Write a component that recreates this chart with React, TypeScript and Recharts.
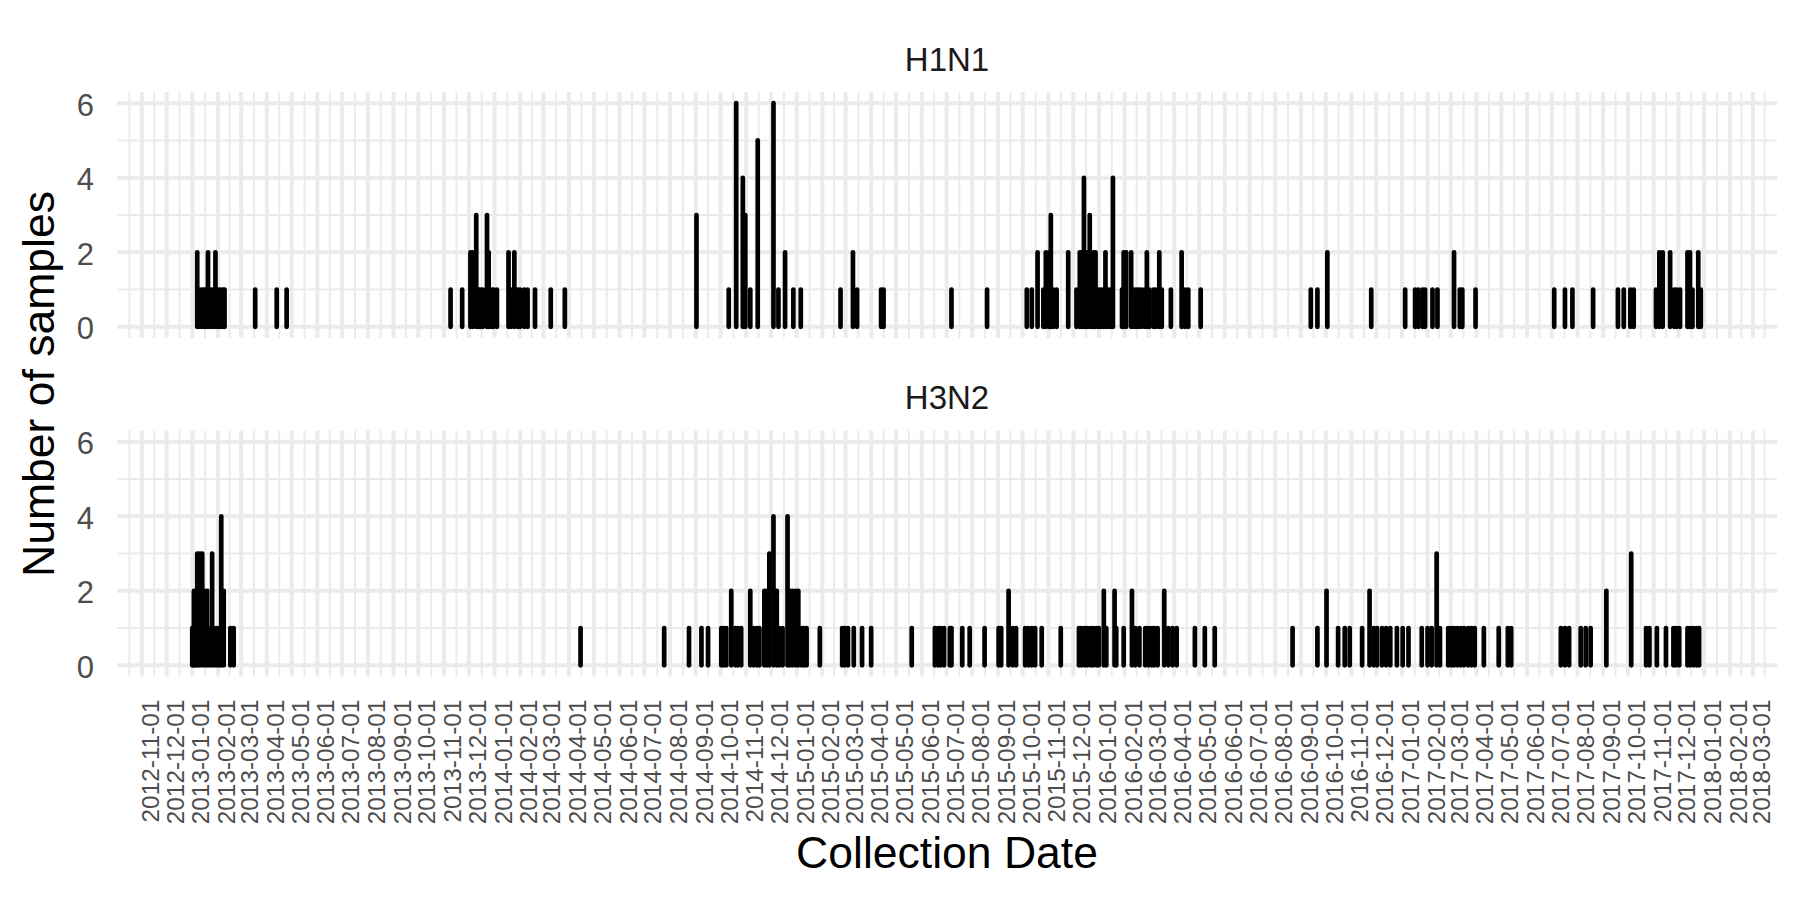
import React from 'react';
import { BarChart, Bar, XAxis, YAxis, CartesianGrid } from 'recharts';

const FONT = '"Liberation Sans", Arial, Helvetica, sans-serif';

const panelTitles = ['H1N1', 'H3N2'];
const yAxisTitle = 'Number of samples';
const xAxisTitle = 'Collection Date';

const yMajorTicks = [0, 2, 4, 6];
const yMinorTicks = [1, 3, 5];
const yDomain = [-0.3, 6.3];

const xDomainDates = ['2012-10-02', '2018-03-30'];

const monthLabels = [
  '2012-11-01', '2012-12-01',
  '2013-01-01', '2013-02-01', '2013-03-01', '2013-04-01', '2013-05-01', '2013-06-01',
  '2013-07-01', '2013-08-01', '2013-09-01', '2013-10-01', '2013-11-01', '2013-12-01',
  '2014-01-01', '2014-02-01', '2014-03-01', '2014-04-01', '2014-05-01', '2014-06-01',
  '2014-07-01', '2014-08-01', '2014-09-01', '2014-10-01', '2014-11-01', '2014-12-01',
  '2015-01-01', '2015-02-01', '2015-03-01', '2015-04-01', '2015-05-01', '2015-06-01',
  '2015-07-01', '2015-08-01', '2015-09-01', '2015-10-01', '2015-11-01', '2015-12-01',
  '2016-01-01', '2016-02-01', '2016-03-01', '2016-04-01', '2016-05-01', '2016-06-01',
  '2016-07-01', '2016-08-01', '2016-09-01', '2016-10-01', '2016-11-01', '2016-12-01',
  '2017-01-01', '2017-02-01', '2017-03-01', '2017-04-01', '2017-05-01', '2017-06-01',
  '2017-07-01', '2017-08-01', '2017-09-01', '2017-10-01', '2017-11-01', '2017-12-01',
  '2018-01-01', '2018-02-01', '2018-03-01',
];

const h1n1Dates = [
  '2013-01-07', '2013-01-09', '2013-01-12', '2013-01-15', '2013-01-17', '2013-01-20',
  '2013-01-23', '2013-01-26', '2013-01-29', '2013-02-01', '2013-02-04', '2013-02-07',
  '2013-02-09', '2013-03-18', '2013-04-13', '2013-04-25',
  '2013-11-09', '2013-11-23', '2013-12-03', '2013-12-06', '2013-12-10', '2013-12-13',
  '2013-12-15', '2013-12-18', '2013-12-23', '2013-12-25', '2013-12-28', '2013-12-31',
  '2014-01-04', '2014-01-18', '2014-01-21', '2014-01-25', '2014-01-29', '2014-02-01',
  '2014-02-06', '2014-02-10', '2014-02-19', '2014-03-10', '2014-03-27',
  '2014-09-02', '2014-10-11', '2014-10-20', '2014-10-28', '2014-10-31', '2014-11-06',
  '2014-11-15', '2014-12-04', '2014-12-10', '2014-12-18', '2014-12-28', '2015-01-06',
  '2015-02-23', '2015-03-10', '2015-03-15', '2015-04-13', '2015-04-16',
  '2015-07-07', '2015-08-19',
  '2015-10-06', '2015-10-12', '2015-10-19', '2015-10-26', '2015-10-29', '2015-11-02',
  '2015-11-04', '2015-11-07', '2015-11-11', '2015-11-25', '2015-12-05', '2015-12-09',
  '2015-12-11', '2015-12-14', '2015-12-16', '2015-12-18', '2015-12-21', '2015-12-24',
  '2015-12-26', '2015-12-28', '2015-12-31', '2016-01-03', '2016-01-06', '2016-01-09',
  '2016-01-12', '2016-01-15', '2016-01-18', '2016-01-29', '2016-01-31', '2016-02-03',
  '2016-02-09', '2016-02-12', '2016-02-15', '2016-02-18', '2016-02-21', '2016-02-25',
  '2016-02-28', '2016-03-02', '2016-03-07', '2016-03-10', '2016-03-14', '2016-03-17',
  '2016-03-28', '2016-04-10', '2016-04-14', '2016-04-18', '2016-05-03',
  '2016-09-13', '2016-09-21', '2016-10-03', '2016-11-25',
  '2017-01-05', '2017-01-17', '2017-01-21', '2017-01-26', '2017-01-29', '2017-02-07',
  '2017-02-13', '2017-03-05', '2017-03-12', '2017-03-15', '2017-03-31',
  '2017-07-04', '2017-07-17', '2017-07-26', '2017-08-20', '2017-09-19', '2017-09-26',
  '2017-10-04', '2017-10-08', '2017-11-04', '2017-11-08', '2017-11-12', '2017-11-21',
  '2017-11-26', '2017-11-29', '2017-12-03', '2017-12-12', '2017-12-15', '2017-12-18',
  '2017-12-25', '2017-12-28',
];
const h1n1Counts = [
  2, 1, 1, 1, 1, 2,
  1, 1, 2, 1, 1, 1,
  1, 1, 1, 1,
  1, 1, 2, 2, 3, 1,
  1, 1, 3, 2, 1, 1,
  1, 2, 1, 2, 1, 1,
  1, 1, 1, 1, 1,
  3, 1, 6, 4, 3, 1,
  5, 6, 1, 2, 1, 1,
  1, 2, 1, 1, 1,
  1, 1,
  1, 1, 2, 1, 2, 2,
  3, 1, 1, 2, 1, 2,
  2, 4, 1, 2, 3, 1,
  2, 2, 1, 1, 1, 2,
  1, 1, 4, 1, 2, 2,
  2, 1, 1, 1, 1, 1,
  2, 1, 1, 1, 2, 1,
  1, 2, 1, 1, 1,
  1, 1, 2, 1,
  1, 1, 1, 1, 1, 1,
  1, 2, 1, 1, 1,
  1, 1, 1, 1, 1, 1,
  1, 1, 1, 2, 2, 2,
  1, 1, 1, 2, 2, 1,
  2, 1,
];

const h3n2Dates = [
  '2013-01-01', '2013-01-03', '2013-01-05', '2013-01-07', '2013-01-10', '2013-01-13',
  '2013-01-16', '2013-01-19', '2013-01-22', '2013-01-25', '2013-01-28', '2013-01-31',
  '2013-02-03', '2013-02-05', '2013-02-08', '2013-02-16', '2013-02-20',
  '2014-04-15', '2014-07-25', '2014-08-24', '2014-09-08', '2014-09-16',
  '2014-10-02', '2014-10-05', '2014-10-08', '2014-10-14', '2014-10-19', '2014-10-22',
  '2014-10-26', '2014-11-06', '2014-11-10', '2014-11-14', '2014-11-17', '2014-11-23',
  '2014-11-26', '2014-11-29', '2014-12-04', '2014-12-08', '2014-12-11', '2014-12-15',
  '2014-12-21', '2014-12-24', '2014-12-27', '2014-12-31', '2015-01-03', '2015-01-07',
  '2015-01-10', '2015-01-13', '2015-01-29',
  '2015-02-25', '2015-02-28', '2015-03-04', '2015-03-11', '2015-03-21', '2015-04-01',
  '2015-05-20', '2015-06-17', '2015-06-21', '2015-06-24', '2015-06-28', '2015-07-05',
  '2015-07-07', '2015-07-20', '2015-07-29', '2015-08-16', '2015-09-02', '2015-09-05',
  '2015-09-14', '2015-09-19', '2015-09-23', '2015-10-04', '2015-10-08', '2015-10-12',
  '2015-10-16', '2015-10-24', '2015-11-16',
  '2015-12-08', '2015-12-11', '2015-12-15', '2015-12-18', '2015-12-22', '2015-12-25',
  '2015-12-29', '2016-01-01', '2016-01-07', '2016-01-10', '2016-01-20', '2016-01-22',
  '2016-01-31', '2016-02-10', '2016-02-14', '2016-02-19', '2016-02-26', '2016-03-01',
  '2016-03-05', '2016-03-08', '2016-03-12', '2016-03-20', '2016-03-25', '2016-03-30',
  '2016-04-04', '2016-04-26', '2016-05-08', '2016-05-20',
  '2016-08-22', '2016-09-21', '2016-10-02', '2016-10-16', '2016-10-24', '2016-10-30',
  '2016-11-14', '2016-11-23', '2016-11-28', '2016-12-02', '2016-12-08', '2016-12-13',
  '2016-12-18', '2016-12-26', '2017-01-02', '2017-01-09', '2017-01-25', '2017-02-01',
  '2017-02-06', '2017-02-12', '2017-02-16', '2017-02-26', '2017-03-02', '2017-03-05',
  '2017-03-09', '2017-03-13', '2017-03-17', '2017-03-22', '2017-03-26', '2017-03-30',
  '2017-04-10', '2017-04-28', '2017-05-09', '2017-05-13',
  '2017-07-12', '2017-07-17', '2017-07-22', '2017-08-05', '2017-08-11', '2017-08-17',
  '2017-09-05', '2017-10-05', '2017-10-23', '2017-10-27', '2017-11-05', '2017-11-16',
  '2017-11-25', '2017-11-28', '2017-12-02', '2017-12-12', '2017-12-15', '2017-12-19',
  '2017-12-23', '2017-12-26',
];
const h3n2Counts = [
  1, 2, 2, 3, 3, 3,
  2, 2, 1, 3, 1, 1,
  1, 4, 2, 1, 1,
  1, 1, 1, 1, 1,
  1, 1, 1, 2, 1, 1,
  1, 2, 1, 1, 1, 2,
  2, 3, 4, 2, 1, 1,
  4, 2, 2, 2, 2, 1,
  1, 1, 1,
  1, 1, 1, 1, 1, 1,
  1, 1, 1, 1, 1, 1,
  1, 1, 1, 1, 1, 1,
  2, 1, 1, 1, 1, 1,
  1, 1, 1,
  1, 1, 1, 1, 1, 1,
  1, 1, 2, 1, 2, 1,
  1, 2, 1, 1, 1, 1,
  1, 1, 1, 2, 1, 1,
  1, 1, 1, 1,
  1, 1, 2, 1, 1, 1,
  1, 2, 1, 1, 1, 1,
  1, 1, 1, 1, 1, 1,
  1, 3, 1, 1, 1, 1,
  1, 1, 1, 1, 1, 1,
  1, 1, 1, 1,
  1, 1, 1, 1, 1, 1,
  2, 3, 1, 1, 1, 1,
  1, 1, 1, 1, 1, 1,
  1, 1,
];

const toTime = (d: string) => Date.parse(d);

const majorTicks = monthLabels.map(toTime);
const labelByTime: Record<number, string> = {};
monthLabels.forEach((l) => { labelByTime[toTime(l)] = l; });

// minor breaks half-way between consecutive monthly breaks (extended one step on each side)
const minorTicks: number[] = (() => {
  const b = [...majorTicks];
  const first = b[1] - b[0];
  const last = b[b.length - 1] - b[b.length - 2];
  const ext = [b[0] - first, ...b, b[b.length - 1] + last];
  const out: number[] = [];
  for (let i = 0; i < ext.length - 1; i++) out.push((ext[i] + ext[i + 1]) / 2);
  return out;
})();

const xDomain = xDomainDates.map(toTime);

const h1n1Data = h1n1Dates.map((d, i) => ({ t: toTime(d), v: h1n1Counts[i] }));
const h3n2Data = h3n2Dates.map((d, i) => ({ t: toTime(d), v: h3n2Counts[i] }));

const GRID = '#EBEBEB';

const Stick = (props: any) => {
  const { x, y, width, height } = props;
  if (x == null || y == null || height == null || !isFinite(height)) return null;
  const cx = x + (width || 0) / 2;
  return (
    <line
      x1={cx}
      x2={cx}
      y1={y}
      y2={y + height}
      stroke="#000000"
      strokeWidth={4.7}
      strokeLinecap="round"
    />
  );
};

const DateTick = (props: any) => {
  const { x, y, payload } = props;
  const label = labelByTime[payload.value] ?? '';
  const tx = x + 17;
  const ty = y + 23;
  return (
    <text
      x={tx}
      y={ty}
      transform={`rotate(-90 ${tx} ${ty})`}
      textAnchor="end"
      fontSize={24.4}
      fill="#4D4D4D"
      fontFamily={FONT}
    >
      {label}
    </text>
  );
};

const CountTick = (props: any) => {
  const { x, y, payload } = props;
  return (
    <text
      x={x}
      y={y + 1.5}
      dy="0.355em"
      textAnchor="end"
      fontSize={31}
      fill="#4D4D4D"
      fontFamily={FONT}
    >
      {payload.value}
    </text>
  );
};

type PanelProps = {
  data: { t: number; v: number }[];
  height: number;
  marginTop: number;
  showX: boolean;
};

const Panel = ({ data, height, marginTop, showX }: PanelProps) => (
  <BarChart
    width={1800}
    height={height}
    data={data}
    margin={{ top: marginTop, right: 23, bottom: showX ? 0 : height - marginTop - 246, left: 17 }}
    barCategoryGap={0}
  >
    <CartesianGrid
      stroke={GRID}
      strokeWidth={2}
      horizontalValues={yMinorTicks}
      verticalValues={minorTicks}
    />
    <CartesianGrid
      stroke={GRID}
      strokeWidth={4}
      horizontalValues={yMajorTicks}
      verticalValues={majorTicks}
    />
    <XAxis
      dataKey="t"
      type="number"
      scale="linear"
      domain={xDomain}
      allowDataOverflow
      ticks={majorTicks}
      interval={0}
      hide={!showX}
      height={showX ? height - marginTop - 246 : 0}
      axisLine={false}
      tickLine={false}
      tickSize={0}
      tickMargin={0}
      tick={<DateTick />}
    />
    <YAxis
      type="number"
      domain={yDomain}
      allowDataOverflow
      ticks={yMajorTicks}
      interval={0}
      width={100}
      axisLine={false}
      tickLine={false}
      tickSize={0}
      tickMargin={23}
      tick={<CountTick />}
    />
    <Bar dataKey="v" barSize={5} shape={<Stick />} isAnimationActive={false} />
  </BarChart>
);

export default function App() {
  return (
    <div
      style={{
        position: 'relative',
        width: 1800,
        height: 900,
        background: '#FFFFFF',
        overflow: 'hidden',
        fontFamily: FONT,
      }}
    >
      <style>{'body{margin:0;}'}</style>
      <div style={{ position: 'absolute', left: 0, top: 0 }}>
        <Panel data={h1n1Data} height={345} marginTop={92} showX={false} />
      </div>
      <div style={{ position: 'absolute', left: 0, top: 338 }}>
        <Panel data={h3n2Data} height={562} marginTop={92.5} showX={true} />
      </div>
      <svg
        width={1800}
        height={900}
        style={{ position: 'absolute', left: 0, top: 0, pointerEvents: 'none' }}
      >
        <text x={947} y={70.5} textAnchor="middle" fontSize={33} fill="#1A1A1A" fontFamily={FONT}>
          {panelTitles[0]}
        </text>
        <text x={947} y={409} textAnchor="middle" fontSize={33} fill="#1A1A1A" fontFamily={FONT}>
          {panelTitles[1]}
        </text>
        <text
          x={54}
          y={384}
          transform="rotate(-90 54 384)"
          textAnchor="middle"
          fontSize={44.5}
          fill="#000000"
          fontFamily={FONT}
        >
          {yAxisTitle}
        </text>
        <text x={947} y={868} textAnchor="middle" fontSize={44.5} fill="#000000" fontFamily={FONT}>
          {xAxisTitle}
        </text>
      </svg>
    </div>
  );
}
